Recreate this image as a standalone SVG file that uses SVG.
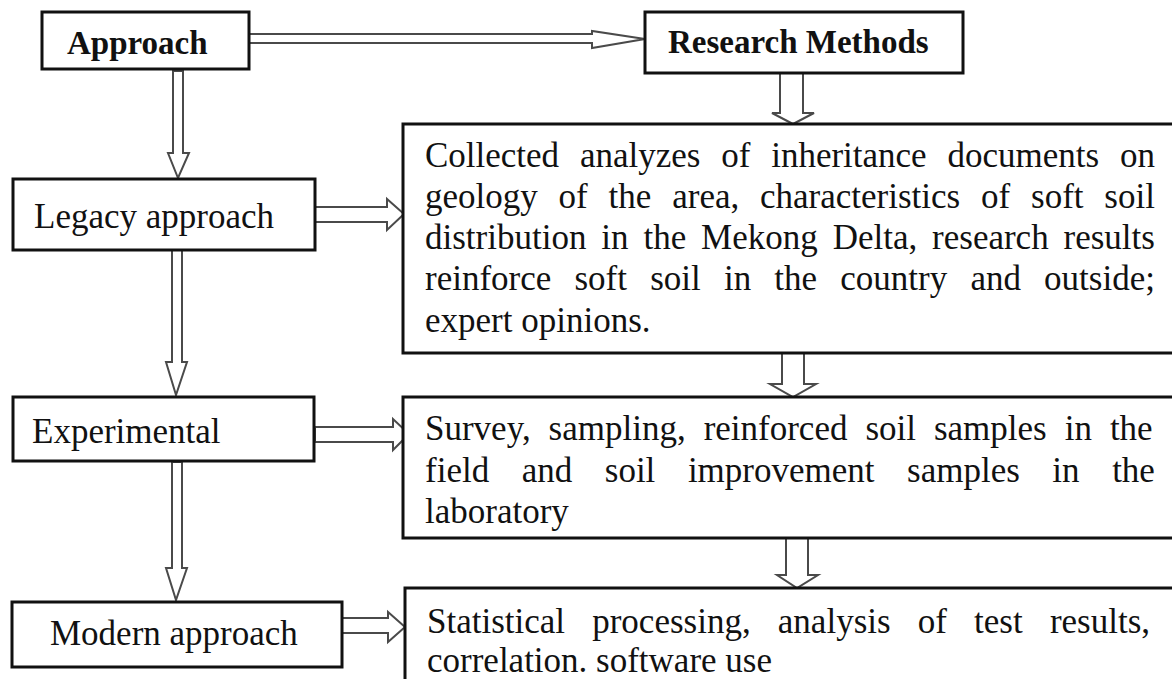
<svg xmlns="http://www.w3.org/2000/svg" width="1172" height="679" viewBox="0 0 1172 679">
<style>
.box{fill:#fff;stroke:#111;stroke-width:3}
.arr{fill:#fff;stroke:#4a4a4a;stroke-width:2;stroke-linejoin:miter}
.t{font-family:"Liberation Serif","Times New Roman",serif;font-size:35px;fill:#111}
.b{font-family:"Liberation Serif","Times New Roman",serif;font-size:33px;font-weight:bold;fill:#111}
</style>
<rect width="1172" height="679" fill="#fff"/>
<g id="connectors">
<polygon class="arr" points="249,34 592,34 592,31 645,39 592,48 592,43 249,43"/>
<polygon class="arr" points="780,73 803,73 803,113 814,113 793,124 772,113 780,113"/>
<polygon class="arr" points="782,353 804,353 804,384 816,384 793,397 770,384 782,384"/>
<polygon class="arr" points="786,538 808,538 808,575 818,575 797,588 777,575 786,575"/>
<polygon class="arr" points="173,71 183,71 183,153 189,153 178,178 168,153 173,153"/>
<polygon class="arr" points="172,250 182,250 182,362 187,362 176,395 166,362 172,362"/>
<polygon class="arr" points="172,462 182,462 182,568 187,568 176,600 166,568 172,568"/>
<polygon class="arr" points="315,207 387,207 387,199 404,214 387,230 387,222 315,222"/>
<polygon class="arr" points="315,427 393,427 393,419 409,434 393,450 393,442 315,442"/>
<polygon class="arr" points="342,618 388,618 388,612 405,627 388,642 388,633 342,633"/>
</g>
<g id="approach">
<rect class="box" x="42" y="12" width="207" height="57"/>
<text class="b" x="67" y="54">Approach</text>
</g>
<g id="research-methods">
<rect class="box" x="645" y="12" width="318" height="61"/>
<text class="b" x="668" y="53">Research Methods</text>
</g>
<g id="legacy">
<rect class="box" x="13" y="179" width="302" height="71"/>
<text class="t" x="34" y="228">Legacy approach</text>
</g>
<g id="experimental">
<rect class="box" x="13" y="397" width="301" height="64"/>
<text class="t" x="32" y="443">Experimental</text>
</g>
<g id="modern">
<rect class="box" x="12" y="602" width="330" height="65"/>
<text class="t" x="50" y="645">Modern approach</text>
</g>
<g id="collected">
<rect class="box" x="403" y="124" width="790" height="229"/>
<text class="t" x="425" y="167" word-spacing="12.06">Collected analyzes of inheritance documents on</text>
<text class="t" x="425" y="208" word-spacing="12.09">geology of the area, characteristics of soft soil</text>
<text class="t" x="425" y="249" word-spacing="6.15">distribution in the Mekong Delta, research results</text>
<text class="t" x="425" y="290" word-spacing="14.44">reinforce soft soil in the country and outside;</text>
<text class="t" x="425" y="332">expert opinions.</text>
</g>
<g id="survey">
<rect class="box" x="403" y="397" width="790" height="141"/>
<text class="t" x="425" y="440" word-spacing="9.22">Survey, sampling, reinforced soil samples in the</text>
<text class="t" x="425" y="482" word-spacing="23.8">field and soil improvement samples in the</text>
<text class="t" x="425" y="523">laboratory</text>
</g>
<g id="statistical">
<rect class="box" x="405" y="588" width="790" height="110"/>
<text class="t" x="427" y="633" word-spacing="18.43">Statistical processing, analysis of test results,</text>
<text class="t" x="427" y="672">correlation. software use</text>
</g>
</svg>
